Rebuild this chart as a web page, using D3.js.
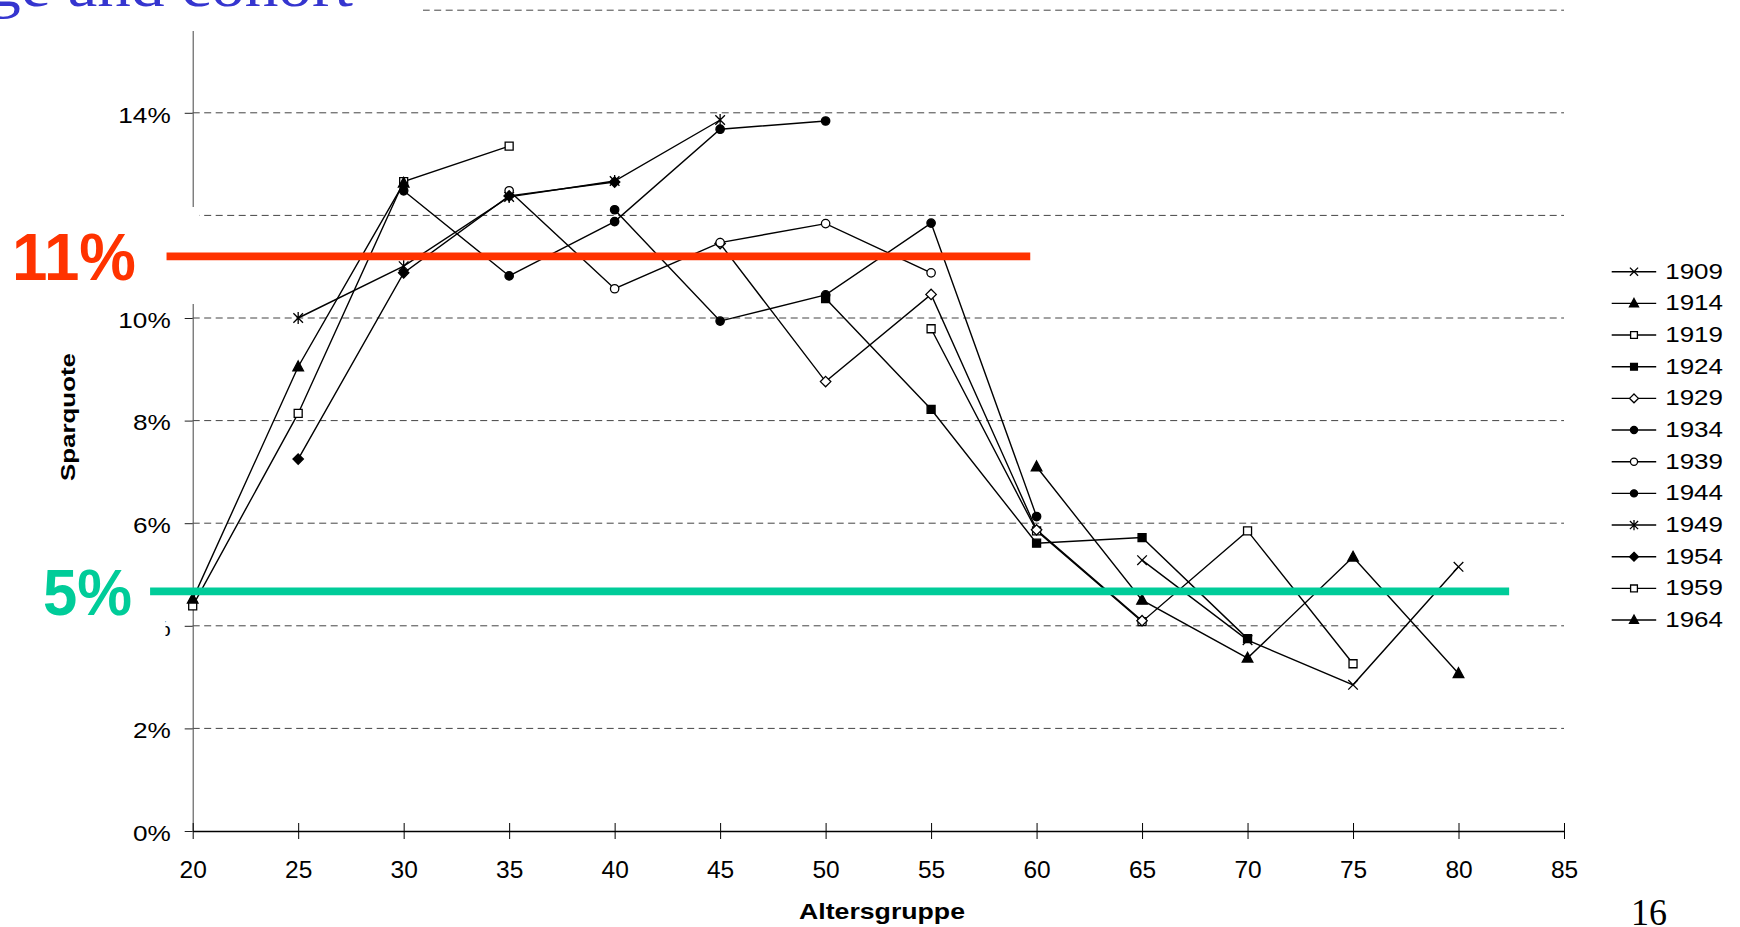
<!DOCTYPE html>
<html><head><meta charset="utf-8">
<script src="https://cdn.jsdelivr.net/npm/d3@7"></script>
<style>html,body{margin:0;padding:0;background:#fff;overflow:hidden}</style>
</head><body>
<svg id="chart" width="1740" height="927" xmlns="http://www.w3.org/2000/svg"></svg>
<script>
// ---------------- data ----------------
const ages = [20,25,30,35,40,45,50,55,60,65,70,75,80];
const xTicks = [20,25,30,35,40,45,50,55,60,65,70,75,80,85];
const yTicks = [0,2,4,6,8,10,12,14,16];
const hiddenYLabels = [12,16]; // covered by slide overlays in the original
const cohorts = ["1909","1914","1919","1924","1929","1934","1939","1944","1949","1954","1959","1964"];
const markerTypes = ["x","triangle","squareOpen","squareFilled","diamondOpen","circleFilled","circleOpen","circleFilled","asterisk","diamondFilled","squareOpen","triangle"];
const _ = null;
const s1909 = [_,_,_,_,_,_,_,_,_,5.28,3.72,2.85,5.15];
const s1914 = [_,_,_,_,_,_,_,_,7.10,4.50,3.37,5.34,3.07];
const s1919 = [_,_,_,_,_,_,_,9.79,5.85,4.08,5.85,3.26,_];
const s1924 = [_,_,_,_,_,_,10.38,8.22,5.61,5.72,3.75,_,_];
const s1929 = [_,_,_,_,_,11.45,8.76,10.46,5.87,4.10,_,_,_];
const s1934 = [_,_,_,_,12.11,9.94,10.45,11.85,6.13,_,_,_,_];
const s1939 = [_,_,_,12.48,10.57,11.47,11.84,10.88,_,_,_,_,_];
const s1944 = [_,_,12.48,10.82,11.88,13.68,13.84,_,_,_,_,_,_];
const s1949 = [_,10.00,11.01,12.36,12.67,13.86,_,_,_,_,_,_,_];
const s1954 = [_,7.25,10.88,12.38,12.65,_,_,_,_,_,_,_,_];
const s1959 = [4.39,8.14,12.66,13.35,_,_,_,_,_,_,_,_,_];
const s1964 = [4.52,9.05,12.63,_,_,_,_,_,_,_,_,_,_];
const seriesValues = [s1909,s1914,s1919,s1924,s1929,s1934,s1939,s1944,s1949,s1954,s1959,s1964];

// annotation levels (as drawn on the value scale) and their labels
const refLabels = ["11%","5%"];
const refLevels = [11.2, 4.67];
const refAgeSpan = [[18.76, 59.7],[17.98, 82.4]];
const refColors = ["#ff3300","#00cc99"];

const titleText = "ge and cohort";
const xTitle = "Altersgruppe";
const yTitle = "Sparquote";
const pageNumber = "16";

// ---------------- drawing ----------------
const svg = d3.select("#chart");
const SANS = "'Liberation Sans', Arial, Helvetica, sans-serif";
const SERIF = "'Liberation Serif', 'Times New Roman', serif";

const x = d3.scaleLinear().domain([20,85]).range([192.7,1564]);
const y = d3.scaleLinear().domain([0,16]).range([831,10.2]);

// gridlines
svg.append("g").selectAll("line").data(yTicks.filter(d=>d>0)).join("line")
  .attr("x1", x(20)).attr("x2", x(85))
  .attr("y1", d=>y(d)).attr("y2", d=>y(d))
  .attr("stroke", "#444").attr("stroke-width", 1).attr("stroke-dasharray", "7,4.5");

// y axis
const yAxisG = svg.append("g").attr("transform", `translate(${x(20)},0)`)
  .call(d3.axisLeft(y).tickValues(yTicks).tickSize(8).tickSizeOuter(0)
    .tickFormat(d=> hiddenYLabels.includes(d) ? "" : d+"%"));
yAxisG.select(".domain").attr("stroke", "#555").attr("stroke-width", 1.1);
yAxisG.selectAll(".tick line").attr("stroke", "#222");
yAxisG.selectAll(".tick text")
  .attr("x", -22/1.19).attr("dy", "0.42em")
  .attr("transform", "scale(1.19,1)")
  .style("font-family", SANS).style("font-size", "22px").attr("fill", "#000");

// x axis
const xAxisG = svg.append("g").attr("transform", `translate(0,${y(0)})`)
  .call(d3.axisBottom(x).tickValues(xTicks).tickSize(8).tickSizeOuter(0).tickFormat(d3.format("d")));
xAxisG.select(".domain").attr("stroke", "#000").attr("stroke-width", 1.4);
xAxisG.selectAll(".tick line").attr("y1", -8).attr("y2", 8).attr("stroke", "#000");
xAxisG.selectAll(".tick text").attr("y", 47).attr("dy", 0)
  .style("font-family", SANS).style("font-size", "24.5px").attr("fill", "#000");

// marker paths
function markerNode(sel, type, k){
  const s = k || 1;
  const filled = /Filled|triangle/.test(type);
  const fill = filled ? "#000" : "#fff";
  let el;
  if (type.startsWith("circle")) {
    el = sel.append("circle").attr("r", 4.2*s);
  } else {
    let p;
    if (type === "x") p = `M${-4.8*s},${-4.8*s}L${4.8*s},${4.8*s}M${-4.8*s},${4.8*s}L${4.8*s},${-4.8*s}`;
    else if (type === "asterisk") p = `M${-4.8*s},${-4.8*s}L${4.8*s},${4.8*s}M${-4.8*s},${4.8*s}L${4.8*s},${-4.8*s}M0,${-6*s}L0,${6*s}`;
    else if (type === "triangle") p = `M0,${-5.8*s}L${5.3*s},${4*s}L${-5.3*s},${4*s}Z`;
    else if (type.startsWith("square")) p = `M${-4*s},${-4*s}h${8*s}v${8*s}h${-8*s}Z`;
    else if (type.startsWith("diamond")) p = `M0,${-5.2*s}L${5.2*s},0L0,${5.2*s}L${-5.2*s},0Z`;
    el = sel.append("path").attr("d", p);
  }
  el.attr("fill", (type==="x"||type==="asterisk") ? "none" : fill)
    .attr("stroke", "#000").attr("stroke-width", 1.3);
  return el;
}

// series lines
const line = d3.line().defined(d=>d.v!==null).x(d=>x(d.a)).y(d=>y(d.v));
const seriesData = cohorts.map((c,i)=>({name:c, type:markerTypes[i],
  pts: ages.map((a,j)=>({a, v: seriesValues[i][j]}))}));

const linesG = svg.append("g");
seriesData.forEach(s=>{
  linesG.append("path").datum(s.pts).attr("d", line)
    .attr("fill","none").attr("stroke","#000").attr("stroke-width",1.4);
});
const markG = svg.append("g");
seriesData.forEach(s=>{
  s.pts.filter(d=>d.v!==null).forEach(d=>{
    const g = markG.append("g").attr("transform", `translate(${x(d.a)},${y(d.v)})`);
    markerNode(g, s.type, 1);
  });
});

// legend
const legG = svg.append("g");
cohorts.forEach((c,i)=>{
  const ry = 271.7 + i*31.67;
  const g = legG.append("g").attr("transform", `translate(1611.7,${ry})`);
  g.append("line").attr("x1",0).attr("x2",44.5).attr("y1",0).attr("y2",0)
    .attr("stroke","#000").attr("stroke-width",1.4);
  const mg = g.append("g").attr("transform","translate(22.3,0)");
  markerNode(mg, markerTypes[i], 0.85);
  g.append("text").attr("transform","translate(53.5,7) scale(1.18,1)")
    .style("font-family", SANS).style("font-size","22px").attr("fill","#000").text(c);
});

// axis titles
svg.append("text").attr("x", 882).attr("y", 919).attr("text-anchor","middle")
  .attr("textLength", 166).attr("lengthAdjust","spacingAndGlyphs")
  .style("font-family", SANS).style("font-size","22px").style("font-weight","bold").text(xTitle);
svg.append("text").attr("transform","translate(75,417) rotate(-90)").attr("text-anchor","middle")
  .attr("textLength", 128).attr("lengthAdjust","spacingAndGlyphs")
  .style("font-family", SANS).style("font-size","20px").style("font-weight","bold").text(yTitle);

// white label boxes (slide overlays)
svg.append("rect").attr("x",0).attr("y",0).attr("width",423).attr("height",31).attr("fill","#fff");
svg.append("rect").attr("x",0).attr("y",207).attr("width",199.5).attr("height",97).attr("fill","#fff");
svg.append("rect").attr("x",0).attr("y",545).attr("width",165.5).attr("height",100).attr("fill","#fff");

// annotation lines and labels
refLevels.forEach((v,i)=>{
  svg.append("line").attr("x1", x(refAgeSpan[i][0])).attr("x2", x(refAgeSpan[i][1]))
    .attr("y1", y(v)).attr("y2", y(v))
    .attr("stroke", refColors[i]).attr("stroke-width", 7.8);
});
svg.append("text").attr("x", 12).attr("y", 280).attr("textLength",124).attr("lengthAdjust","spacingAndGlyphs")
  .style("font-family", SANS).style("font-size","66px").style("font-weight","bold")
  .attr("fill", refColors[0]).text(refLabels[0]);
svg.append("text").attr("x", 43).attr("y", 615).attr("textLength",89).attr("lengthAdjust","spacingAndGlyphs")
  .style("font-family", SANS).style("font-size","65px").style("font-weight","bold")
  .attr("fill", refColors[1]).text(refLabels[1]);

// title (cut at top of slide)
svg.append("text").attr("transform","translate(353,6) scale(1.12,1)").attr("text-anchor","end")
  .style("font-family", SERIF).style("font-size","60px").attr("fill","#3535cf").text(titleText);

// page number
svg.append("text").attr("x",1631).attr("y",925).attr("textLength",36).attr("lengthAdjust","spacingAndGlyphs")
  .style("font-family", SERIF).style("font-size","38px").attr("fill","#000").text(pageNumber);
</script>
</body></html>
